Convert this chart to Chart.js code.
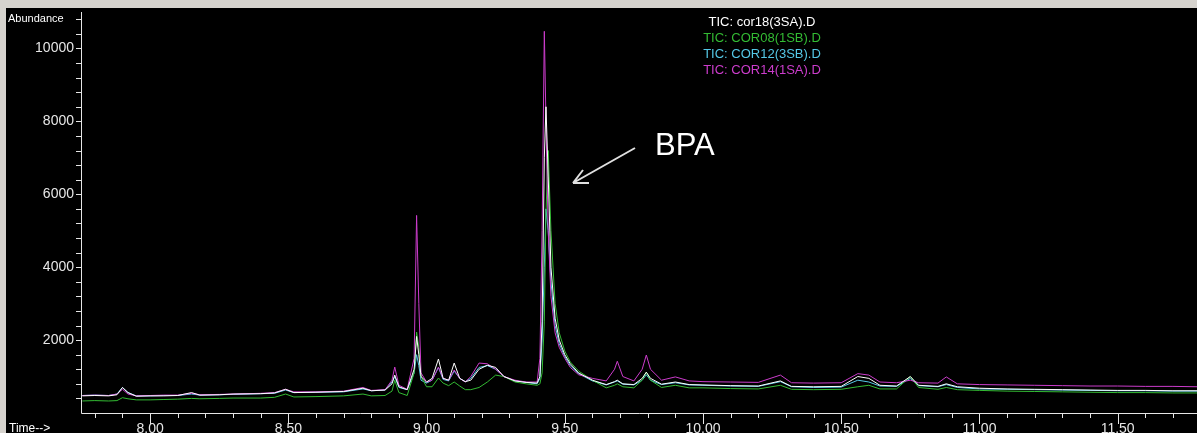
<!DOCTYPE html>
<html>
<head>
<meta charset="utf-8">
<script src="https://cdn.jsdelivr.net/npm/chart.js@4"></script>
<style>
html, body { margin: 0; padding: 0; background: #d6d3ce; overflow: hidden; }
#frame { position: absolute; left: 6px; top: 8px; width: 1191px; height: 425px; background: #000; }
canvas { display: block; }
</style>
</head>
<body>
<div id="frame"><canvas id="tic" width="1191" height="425"></canvas></div>
<script>
// retention time (min)
const times = [
  7.755, 7.80, 7.85, 7.88, 7.90, 7.92, 7.95, 8.00, 8.05, 8.10, 8.15, 8.18, 8.25, 8.30, 8.40, 8.45,
  8.49, 8.52, 8.60, 8.70, 8.77, 8.80, 8.85, 8.875, 8.885, 8.90, 8.93, 8.955, 8.964, 8.972, 8.98,
  9.00, 9.02, 9.043, 9.06, 9.08, 9.10, 9.12, 9.14, 9.16, 9.19, 9.22, 9.25, 9.28, 9.32, 9.36,
  9.40, 9.41, 9.418, 9.426, 9.432, 9.44, 9.45, 9.465, 9.48, 9.50, 9.52, 9.55, 9.60, 9.65, 9.68,
  9.69, 9.71, 9.75, 9.78, 9.795, 9.81, 9.85, 9.90, 9.95, 10.00, 10.10, 10.20, 10.28, 10.32, 10.40,
  10.50, 10.56, 10.60, 10.64, 10.70, 10.75, 10.78, 10.85, 10.88, 10.92, 11.00, 11.10, 11.20, 11.30,
  11.40, 11.50, 11.60, 11.70, 11.787
];

// abundance of each run
const cor18 = [
  470, 480, 470, 500, 700, 560, 460, 470, 470, 480, 560, 490, 500, 520, 530, 550,
  650, 560, 570, 590, 680, 610, 630, 800, 1040, 720, 640, 1200, 2100, 1600, 1000,
  850, 950, 1480, 950, 900, 1370, 950, 860, 900, 1200, 1310, 1250, 1000, 880, 840,
  820, 1000, 2500, 7000, 8400, 6500, 4000, 2600, 2000, 1600, 1350, 1100, 900, 780, 860,
  900, 800, 780, 950, 1120, 950, 790, 850, 780, 770, 750, 740, 880, 730, 720,
  730, 1000, 950, 760, 740, 1000, 760, 730, 800, 720, 680, 660, 650, 640,
  630, 620, 620, 610, 610
];
const cor08 = [
  330, 340, 330, 340, 420, 390, 360, 360, 370, 380, 400, 390, 400, 410, 410, 430,
  520, 440, 450, 470, 520, 470, 480, 600, 900, 560, 480, 1100, 2220, 1800, 1000,
  720, 720, 960, 820, 750, 850, 740, 640, 640, 700, 850, 1040, 1000, 850, 800,
  760, 800, 1100, 2500, 5500, 7200, 5000, 3000, 2200, 1700, 1400, 1150, 900, 690, 760,
  800, 720, 690, 900, 1120, 900, 700, 760, 690, 690, 670, 660, 760, 650, 640,
  650, 720, 760, 660, 660, 1000, 700, 650, 700, 640, 620, 600, 590, 580,
  570, 560, 560, 550, 550
];
const cor12 = [
  480, 490, 480, 520, 700, 560, 470, 470, 480, 480, 520, 490, 500, 510, 530, 540,
  630, 560, 570, 580, 660, 610, 630, 850, 1000, 700, 640, 1100, 1600, 1300, 900,
  820, 900, 1250, 920, 880, 1150, 950, 860, 950, 1250, 1300, 1200, 1000, 880, 840,
  800, 950, 2000, 4000, 5600, 5000, 3600, 2400, 1900, 1550, 1300, 1080, 880, 770, 850,
  880, 790, 770, 900, 1050, 900, 780, 830, 770, 760, 740, 730, 860, 720, 700,
  710, 900, 850, 740, 730, 950, 750, 720, 780, 700, 660, 650, 640, 630,
  620, 610, 610, 600, 600
];
const cor14 = [
  480, 490, 480, 520, 650, 520, 470, 480, 490, 490, 540, 500, 510, 520, 540, 560,
  650, 580, 580, 600, 700, 620, 640, 900, 1260, 760, 650, 1500, 5420, 3000, 1100,
  850, 900, 1260, 950, 900, 1180, 950, 850, 1000, 1370, 1350, 1200, 1000, 900, 850,
  850, 1500, 5000, 10470, 8000, 5000, 3200, 2200, 1800, 1500, 1250, 1050, 950, 880, 1200,
  1420, 1000, 880, 1200, 1590, 1200, 900, 990, 880, 860, 850, 840, 1040, 830, 820,
  830, 1080, 1040, 850, 830, 900, 830, 820, 990, 800, 780, 770, 760, 750,
  740, 740, 730, 730, 720
];

const runNames = ['TIC: cor18(3SA).D', 'TIC: COR08(1SB).D', 'TIC: COR12(3SB).D', 'TIC: COR14(1SA).D'];
const runColors = ['#ffffff', '#33bb33', '#55c8e6', '#cc3ccc'];

// axis ticks
const xMajor = [8.0, 8.5, 9.0, 9.5, 10.0, 10.5, 11.0, 11.5];
const yMajor = [2000, 4000, 6000, 8000, 10000];
const xTicks = [];
for (let v = 78; v <= 117; v++) xTicks.push(v / 10);
const yTicks = [];
for (let v = 400; v <= 10800; v += 400) yTicks.push(v);

const sans = '"Liberation Sans", Arial, sans-serif';

const toPoints = (vals) => times.map((t, i) => ({ x: t, y: vals[i] }));

// axis lines, tick marks and the captions
const chromPlugin = {
    id: 'chrom',
    afterDraw(chart) {
        const { ctx, chartArea: a, scales: { x, y } } = chart;
        ctx.save();
        ctx.strokeStyle = '#e6e6e6';
        ctx.lineWidth = 1;
        ctx.beginPath();
        ctx.moveTo(a.left + 0.5, a.top);
        ctx.lineTo(a.left + 0.5, a.bottom + 0.5);
        ctx.lineTo(a.right, a.bottom + 0.5);
        x.ticks.forEach(t => {
            const px = Math.round(x.getPixelForValue(t.value)) + 0.5;
            const len = xMajor.some(m => Math.abs(m - t.value) < 1e-6) ? 11 : 5;
            ctx.moveTo(px, a.bottom);
            ctx.lineTo(px, a.bottom + len);
        });
        y.ticks.forEach(t => {
            const py = Math.round(y.getPixelForValue(t.value)) + 0.5;
            ctx.moveTo(a.left, py);
            ctx.lineTo(a.left - 5, py);
        });
        ctx.stroke();

        // labels of the frame
        ctx.fillStyle = '#ffffff';
        ctx.font = '11px ' + sans;
        ctx.textAlign = 'left';
        ctx.textBaseline = 'middle';
        ctx.fillText('Abundance', 2, 11);
        ctx.font = '12px ' + sans;
        ctx.fillText('Time-->', 3, 421);

        // legend
        ctx.textAlign = 'center';
        ctx.font = '13px ' + sans;
        runNames.forEach((n, i) => {
            ctx.fillStyle = runColors[i];
            ctx.fillText(n, 756, 14 + i * 16);
        });

        // BPA annotation
        ctx.fillStyle = '#ffffff';
        ctx.font = '31px ' + sans;
        ctx.textAlign = 'left';
        ctx.fillText('BPA', 649, 138);
        ctx.strokeStyle = '#e0e0e0';
        ctx.lineWidth = 2;
        ctx.beginPath();
        ctx.moveTo(629, 140);
        ctx.lineTo(567, 175);
        ctx.moveTo(567, 175);
        ctx.lineTo(577, 162);
        ctx.moveTo(567, 175);
        ctx.lineTo(583, 175);
        ctx.stroke();
        ctx.restore();
    }
};

const order = [1, 3, 4, 2];
const chart = new Chart(document.getElementById('tic').getContext('2d'), {
    type: 'line',
    data: {
        datasets: [cor18, cor08, cor12, cor14].map((vals, i) => ({
            label: runNames[i],
            data: toPoints(vals),
            borderColor: runColors[i],
            borderWidth: 1,
            pointRadius: 0,
            tension: 0,
            order: order[i]
        }))
    },
    options: {
        responsive: false,
        animation: false,
        layout: { padding: { top: 4, left: 0, right: 0, bottom: 0 } },
        plugins: { legend: { display: false }, tooltip: { enabled: false } },
        scales: {
            x: {
                type: 'linear',
                min: 7.75,
                max: 11.787,
                afterBuildTicks: (s) => { s.ticks = xTicks.map(v => ({ value: v })); },
                afterFit: (s) => { s.height = 20; s.paddingLeft = 0; s.paddingRight = 0; },
                grid: { display: false, drawTicks: false },
                border: { display: false },
                ticks: {
                    color: '#e6e6e6',
                    font: { family: sans, size: 14 },
                    padding: 8,
                    maxRotation: 0,
                    autoSkip: false,
                    callback: (v) => xMajor.some(m => Math.abs(m - v) < 1e-6) ? v.toFixed(2) : ''
                }
            },
            y: {
                min: 0,
                max: 11000,
                afterBuildTicks: (s) => { s.ticks = yTicks.map(v => ({ value: v })); },
                afterFit: (s) => { s.width = 75; s.paddingTop = 0; s.paddingBottom = 0; },
                grid: { display: false, drawTicks: false },
                border: { display: false },
                ticks: {
                    color: '#e6e6e6',
                    font: { family: sans, size: 14 },
                    padding: 7,
                    autoSkip: false,
                    callback: (v) => yMajor.includes(v) ? String(v) : ''
                }
            }
        }
    },
    plugins: [chromPlugin]
});
</script>
</body>
</html>
